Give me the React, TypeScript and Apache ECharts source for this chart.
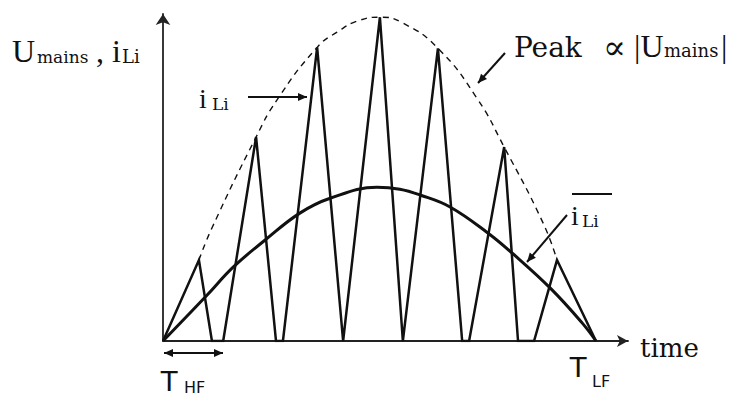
import React, { useEffect, useRef } from "react";
import * as echarts from "echarts";

// time in % of T_LF, current in % of the peak of |U_mains|
const sawTime = [0, 8.3, 11.3, 13.9, 21.5, 26.1, 27.7, 35.6, 41.6, 50.1, 55.4, 63.5, 69.1, 70.7, 78.8, 82.0, 85.7, 91.0, 100];
const sawValue = [0, 25.0, 0, 0, 63.0, 0, 0, 90.7, 0, 100, 0, 90.4, 0, 0, 59.9, 0, 0, 25.0, 0];

const envTime = [8.3, 11.3, 21.5, 26.3, 35.6, 40.2, 45.5, 50.1, 55.4, 63.5, 72.5, 78.8, 87.8, 91.0];
const envValue = [25.0, 34.9, 63.0, 74.4, 90.7, 95.4, 99.1, 100, 98.2, 90.4, 75.0, 59.9, 36.4, 25.0];

const meanTime = [0, 10.2, 16.2, 23.6, 31.6, 38.6, 49.4, 54.7, 59.4, 66.3, 75.1, 80.6, 89.4, 96.8, 100];
const meanValue = [0, 14.2, 22.8, 31.2, 39.5, 44.1, 47.5, 46.9, 45.1, 41.4, 33.3, 27.2, 16.4, 5.6, 0];

const SERIF = "'Liberation Serif', 'DejaVu Serif', serif";
const WSERIF = "'DejaVu Serif', 'Liberation Serif', serif";
const SANS = "'Liberation Sans', 'DejaVu Sans', sans-serif";
const WSANS = "'DejaVu Sans', 'Liberation Sans', sans-serif";

function txt(text: string, x: number, baseline: number, size: number, family = SERIF) {
  return {
    type: "text",
    silent: true,
    style: {
      text,
      x,
      y: baseline - 0.34 * size,
      fontSize: size,
      fontFamily: family,
      fill: "#111",
      align: "left",
      verticalAlign: "middle",
    },
  };
}

function head(x1: number, y1: number, x2: number, y2: number, L = 9, W = 4) {
  const dx = x2 - x1;
  const dy = y2 - y1;
  const len = Math.sqrt(dx * dx + dy * dy);
  const ux = dx / len;
  const uy = dy / len;
  const bx = x2 - ux * L;
  const by = y2 - uy * L;
  return {
    type: "polygon",
    silent: true,
    shape: { points: [[x2, y2], [bx - uy * W, by + ux * W], [bx + uy * W, by - ux * W]] },
    style: { fill: "#111" },
  };
}

function arrow(x1: number, y1: number, x2: number, y2: number, both = false) {
  const els: any[] = [
    { type: "line", silent: true, shape: { x1, y1, x2, y2 }, style: { stroke: "#111", lineWidth: 2 } },
    head(x1, y1, x2, y2),
  ];
  if (both) els.push(head(x2, y2, x1, y1));
  return els;
}

export default function App() {
  const ref = useRef<HTMLDivElement>(null);
  useEffect(() => {
    if (!ref.current) return;
    const chart = echarts.init(ref.current, null, { renderer: "svg" });
    const pair = (a: number[], b: number[]) => a.map((v, i) => [v, b[i]]);
    chart.setOption({
      animation: false,
      backgroundColor: "#fff",
      grid: { left: 163, top: 14, right: 107, bottom: 55, containLabel: false },
      xAxis: {
        type: "value",
        min: 0,
        max: 107.4,
        axisLine: { show: true, symbol: ["none", "arrow"], symbolSize: [9, 11], lineStyle: { color: "#222", width: 1.8 } },
        axisTick: { show: false },
        axisLabel: { show: false },
        splitLine: { show: false },
      },
      yAxis: {
        type: "value",
        min: 0,
        max: 101,
        axisLine: { show: true, symbol: ["none", "arrow"], symbolSize: [11, 11], lineStyle: { color: "#222", width: 1.8 } },
        axisTick: { show: false },
        axisLabel: { show: false },
        splitLine: { show: false },
      },
      series: [
        {
          type: "line",
          name: "Peak",
          data: pair(envTime, envValue),
          smooth: 0.5,
          symbol: "none",
          lineStyle: { color: "#111", width: 1.4, type: [6, 5] },
        },
        {
          type: "line",
          name: "mean iLi",
          data: pair(meanTime, meanValue),
          smooth: 0.4,
          symbol: "none",
          lineStyle: { color: "#111", width: 3 },
        },
        {
          type: "line",
          name: "iLi",
          data: pair(sawTime, sawValue),
          symbol: "none",
          lineStyle: { color: "#111", width: 2.5, join: "miter" },
        },
      ],
      graphic: [
        txt("U", 12, 62, 32),
        txt("mains", 37, 63, 17, WSERIF),
        txt(",", 96, 62, 32),
        txt("i", 112, 62, 32),
        txt("Li", 122, 63, 18, WSERIF),
        txt("i", 199, 108, 28),
        txt("Li", 212, 110, 17, WSERIF),
        ...arrow(248, 97, 307, 97),
        txt("Peak", 514, 57, 28, WSERIF),
        txt("∝", 603, 59, 34, WSERIF),
        txt("|U", 634, 57, 32),
        txt("mains", 664, 57, 18, WSERIF),
        txt("|", 721, 57, 32),
        ...arrow(505, 53, 478, 83),
        txt("i", 571, 225, 28),
        txt("Li", 582, 227, 17, WSERIF),
        { type: "line", silent: true, shape: { x1: 572, y1: 194, x2: 612, y2: 194 }, style: { stroke: "#111", lineWidth: 2 } },
        ...arrow(567, 215, 527, 262),
        ...arrow(164, 353, 223, 353, true),
        txt("T", 160, 391, 30, SANS),
        txt("HF", 184, 393, 16, WSANS),
        txt("T", 569, 377, 30, SANS),
        txt("LF", 592, 387, 16, WSANS),
        txt("time", 640, 357, 26, WSERIF),
      ],
    });
    return () => chart.dispose();
  }, []);
  return <div ref={ref} style={{ position: "absolute", left: 0, top: 0, width: 735, height: 396 }} />;
}
